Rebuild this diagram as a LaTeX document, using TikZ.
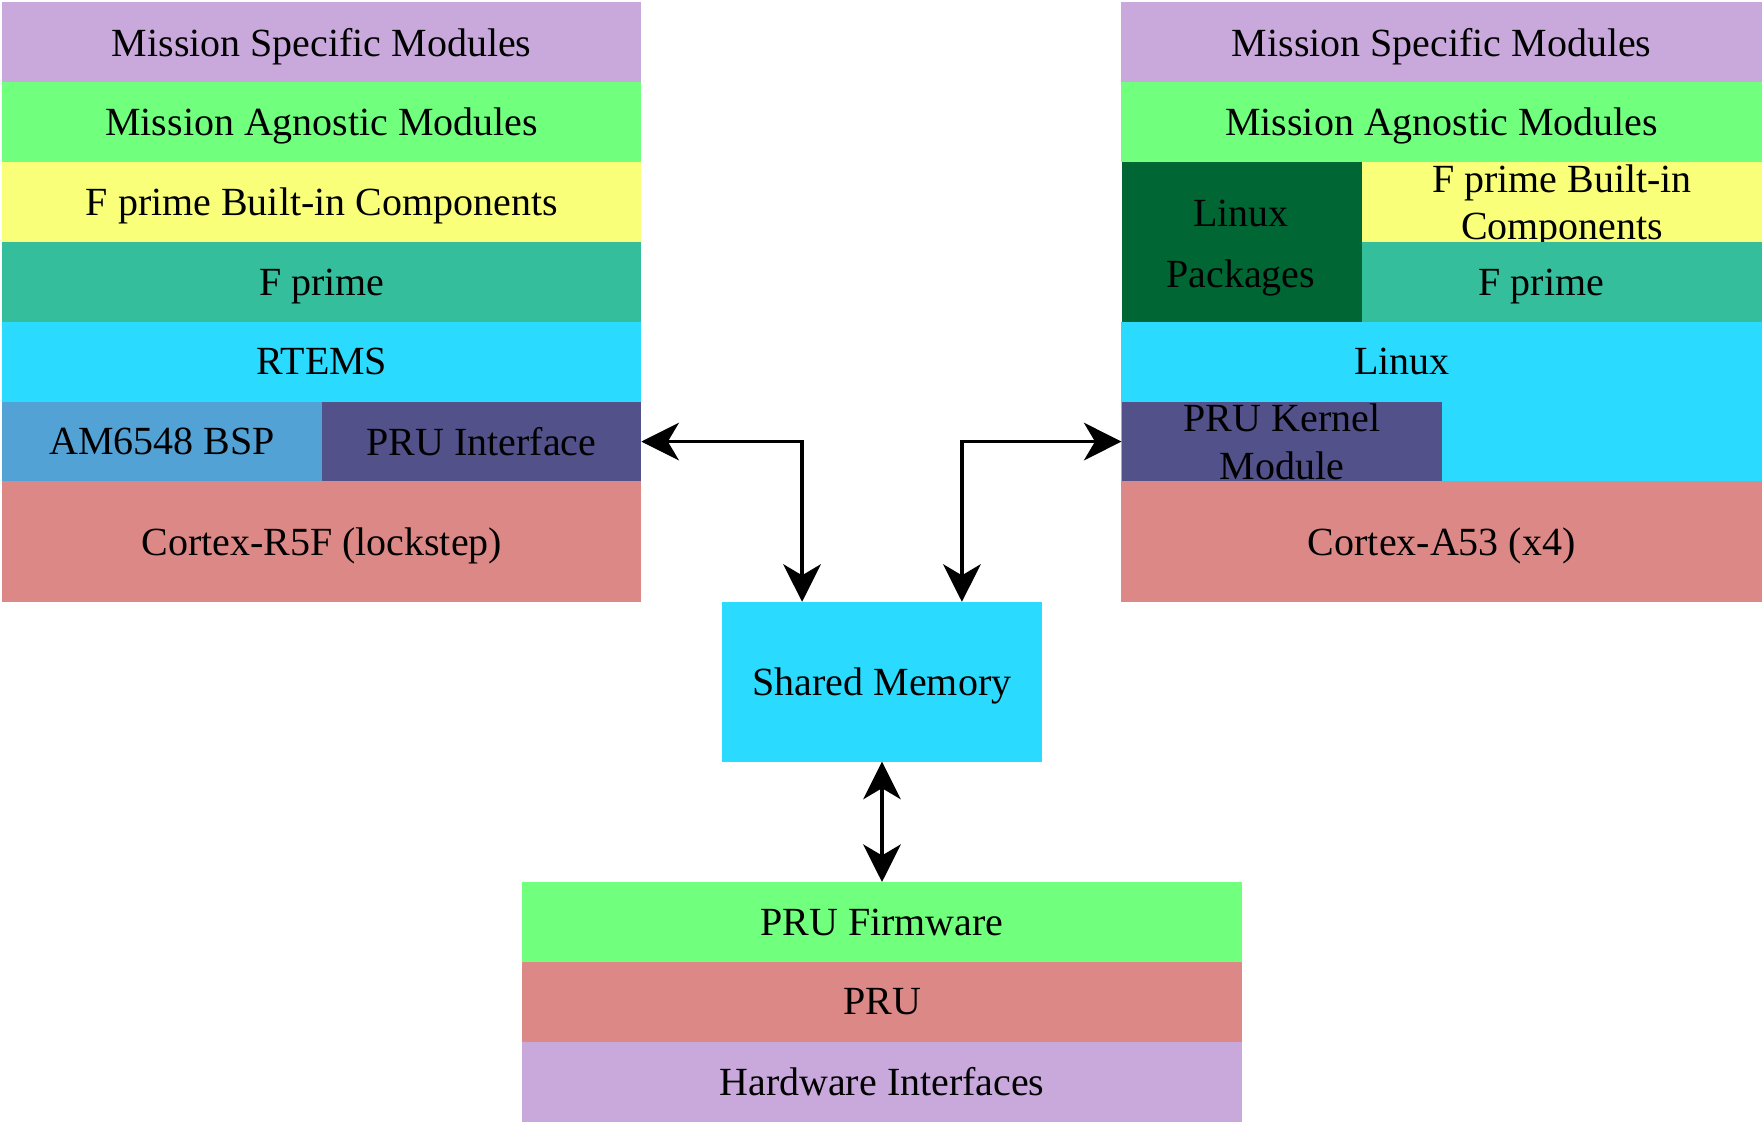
\documentclass[tikz,border=0pt]{standalone}
\usepackage{fontspec}
\setmainfont{Liberation Serif}
\usetikzlibrary{arrows.meta,calc}
\definecolor{lav}{HTML}{C9A8DC}
\definecolor{lgreen}{HTML}{71FF7E}
\definecolor{lyellow}{HTML}{FAFF7A}
\definecolor{teal2}{HTML}{35BE9C}
\definecolor{cyan2}{HTML}{2ADBFF}
\definecolor{blue2}{HTML}{52A2D6}
\definecolor{purple2}{HTML}{52518A}
\definecolor{salmon}{HTML}{DB8886}
\definecolor{dgreen}{HTML}{006633}
\tikzset{
  layer/.style={draw=none, inner sep=0pt, outer sep=0pt, align=center, text depth=0pt,
    font=\fontsize{10.1}{12}\selectfont},
  biarrow/.style={line width=0.85pt, {Stealth[length=9.5pt,width=9.5pt,inset=2.8pt]}-{Stealth[length=9.5pt,width=9.5pt,inset=2.8pt]}},
}
\begin{document}
\begin{tikzpicture}[x=0.01cm,y=-0.01cm]
\useasboundingbox (0,0) rectangle (1568,999);
% left stack
\node[layer, fill=lav, minimum width=5.68cm, minimum height=0.71cm] (lms) at (286,37.5) {Mission Specific Modules};
\node[layer, fill=lgreen, minimum width=5.68cm, minimum height=0.71cm] (lma) at (286,108.5) {Mission Agnostic Modules};
\node[layer, fill=lyellow, minimum width=5.68cm, minimum height=0.71cm] (lbi) at (286,179.5) {F prime Built-in Components};
\node[layer, fill=teal2, minimum width=5.68cm, minimum height=0.71cm] (lfp) at (286,250.5) {F prime};
\node[layer, fill=cyan2, minimum width=5.68cm, minimum height=0.71cm] (rtems) at (286,321.5) {RTEMS};
\node[layer, fill=blue2, minimum width=2.84cm, minimum height=0.71cm] (bsp) at (144,392.5) {AM6548 BSP};
\node[layer, fill=purple2, minimum width=2.84cm, minimum height=0.71cm] (pruif) at (428,392.5) {PRU Interface};
\node[layer, fill=salmon, minimum width=5.68cm, minimum height=1.07cm] (r5f) at (286,481.5) {Cortex-R5F (lockstep)};
% right stack
\node[layer, fill=lav, minimum width=5.69cm, minimum height=0.71cm] (rms) at (1281.5,37.5) {Mission Specific Modules};
\node[layer, fill=lgreen, minimum width=5.69cm, minimum height=0.71cm] (rma) at (1281.5,108.5) {Mission Agnostic Modules};
\node[layer, fill=dgreen, minimum width=2.14cm, minimum height=1.42cm] (lpk) at (1104,215) {};
\node[layer] (lpklbl) at (1103,217) {Linux\\[3.4pt]Packages};
\node[layer, fill=lyellow, minimum width=3.55cm, minimum height=0.71cm] (rbi) at (1388.5,179.5) {F prime Built-in\\Components};
\node[layer, fill=teal2, minimum width=3.55cm, minimum height=0.71cm] (rfp) at (1388.5,250.5) {};
\node[layer] (rfplbl) at (1370,250.5) {F prime};
\node[layer, fill=cyan2, minimum width=5.69cm, minimum height=1.42cm] (linux) at (1281.5,357) {};
\node[layer] (linuxlbl) at (1246,321.5) {Linux};
\node[layer, fill=purple2, minimum width=2.85cm, minimum height=0.71cm] (prukm) at (1139.5,392.5) {PRU Kernel\\Module};
\node[layer, fill=salmon, minimum width=5.69cm, minimum height=1.07cm] (a53) at (1281.5,481.5) {Cortex-A53 (x4)};
% shared memory
\node[layer, fill=cyan2, minimum width=2.84cm, minimum height=1.42cm] (shm) at (784,606) {Shared Memory};
% bottom stack
\node[layer, fill=lgreen, minimum width=6.40cm, minimum height=0.71cm] (fw) at (784,819.5) {PRU Firmware};
\node[layer, fill=salmon, minimum width=6.40cm, minimum height=0.71cm] (pru) at (784,890.5) {PRU};
\node[layer, fill=lav, minimum width=6.40cm, minimum height=0.71cm] (hw) at (784,961.5) {Hardware Interfaces};
% connectors
\coordinate (shmL) at ($(shm.north west)!0.25!(shm.north east)$);
\coordinate (shmR) at ($(shm.north west)!0.75!(shm.north east)$);
\draw[biarrow] (pruif.east) -| (shmL);
\draw[biarrow] (prukm.west) -| (shmR);
\draw[biarrow] (shm.south) -- (fw.north);
\end{tikzpicture}
\end{document}
